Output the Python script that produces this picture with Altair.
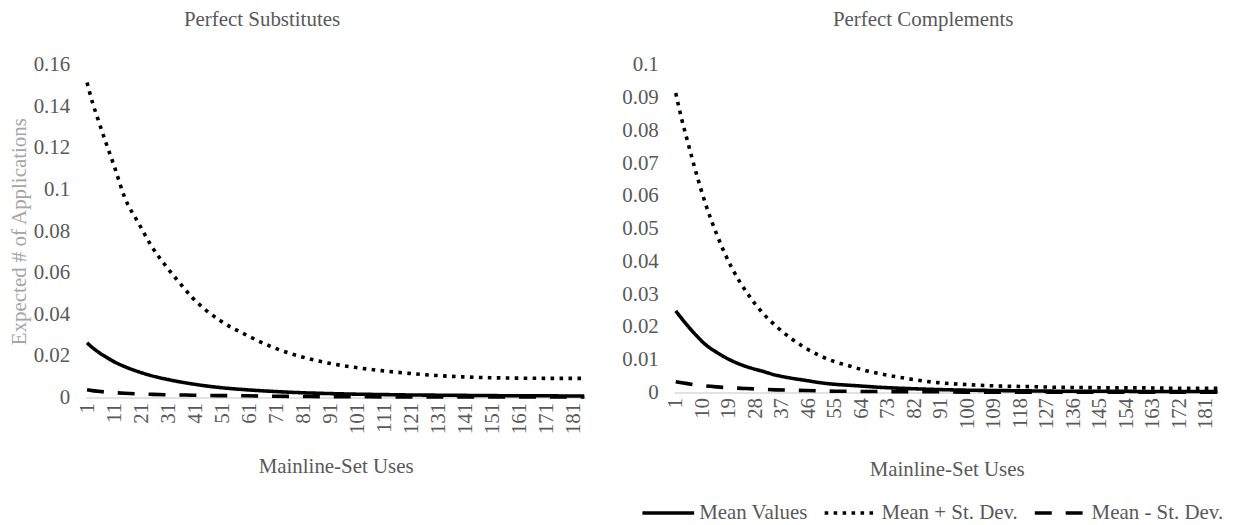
import altair as alt
import pandas as pd

FONT = "Liberation Serif"
GRAY = "#595959"
LIGHT = "#a6a6a6"

series_names = ["Mean Values", "Mean + St. Dev.", "Mean - St. Dev."]
n_points = 185

# Perfect Substitutes (left)
sub_x = [1, 3, 5, 8, 11, 15, 20, 25, 30, 35, 40, 50, 60, 70, 80, 90, 100,
         110, 120, 130, 140, 150, 160, 170, 180, 185]
sub_mean = [0.0263, 0.0240, 0.0220, 0.0195, 0.0172, 0.0148, 0.0124, 0.0104,
            0.0089, 0.0076, 0.0065, 0.0048, 0.0037, 0.0029, 0.0023, 0.0019,
            0.0016, 0.0014, 0.0012, 0.0011, 0.0010, 0.0009, 0.0008, 0.0008,
            0.0007, 0.0007]
sub_plus = [0.1515, 0.1420, 0.1340, 0.1225, 0.1115, 0.0960, 0.0840, 0.0725,
            0.0635, 0.0555, 0.0480, 0.0372, 0.0300, 0.0240, 0.0197, 0.0166,
            0.0145, 0.0129, 0.0116, 0.0106, 0.0099, 0.0095, 0.0093, 0.0092,
            0.0092, 0.0092]
sub_minus = [0.0037, 0.0033, 0.0030, 0.0026, 0.0023, 0.0020, 0.0017, 0.0015,
             0.0013, 0.0012, 0.0011, 0.0009, 0.0008, 0.0006, 0.0005, 0.0004,
             0.0004, 0.0003, 0.0003, 0.0003, 0.0002, 0.0002, 0.0002, 0.0002,
             0.0002, 0.0002]

# Perfect Complements (right)
comp_x = [1, 3, 5, 8, 11, 15, 20, 25, 30, 35, 40, 45, 50, 55, 60, 65, 70, 80,
          90, 100, 110, 120, 130, 140, 150, 160, 170, 180, 185]
comp_mean = [0.0249, 0.0226, 0.0204, 0.0174, 0.0147, 0.0122, 0.0097, 0.0079,
             0.0066, 0.0053, 0.0044, 0.0037, 0.0030, 0.0025, 0.0022, 0.0019,
             0.0016, 0.0012, 0.0009, 0.0007, 0.0006, 0.0005, 0.0004, 0.0004,
             0.0004, 0.0003, 0.0003, 0.0003, 0.0003]
comp_plus = [0.0914, 0.0835, 0.0767, 0.0668, 0.0579, 0.0481, 0.0381, 0.0307,
             0.0248, 0.0203, 0.0166, 0.0136, 0.0112, 0.0094, 0.0081, 0.0068,
             0.0058, 0.0042, 0.0030, 0.0024, 0.0020, 0.0018, 0.0016, 0.0015,
             0.0014, 0.0014, 0.0013, 0.0013, 0.0013]
comp_minus = [0.0033, 0.0030, 0.0027, 0.0023, 0.0020, 0.0017, 0.0014, 0.0012,
              0.0010, 0.0008, 0.0007, 0.0006, 0.0005, 0.0004, 0.0004, 0.0003,
              0.0003, 0.0002, 0.0002, 0.0001, 0.0001, 0.0001, 0.0001, 0.0001,
              0.0001, 0.0001, 0.0001, 0.0001, 0.0001]

sub_xticks = [1, 11, 21, 31, 41, 51, 61, 71, 81, 91, 101, 111, 121, 131, 141,
              151, 161, 171, 181]
comp_xticks = [1, 10, 19, 28, 37, 46, 55, 64, 73, 82, 91, 100, 109, 118, 127,
               136, 145, 154, 163, 172, 181]
sub_yticks = [0, 0.02, 0.04, 0.06, 0.08, 0.1, 0.12, 0.14, 0.16]
comp_yticks = [0, 0.01, 0.02, 0.03, 0.04, 0.05, 0.06, 0.07, 0.08, 0.09, 0.1]


def long_df(xs, mean, plus, minus):
    rows = []
    for name, vals in zip(series_names, [mean, plus, minus]):
        for x, v in zip(xs, vals):
            rows.append({"x": x, "value": v, "series": name})
    return pd.DataFrame(rows)


dash_scale = alt.Scale(domain=series_names,
                       range=[[1, 0], [3.6, 5.4], [17, 14]])


def panel(df, title, yticks, xticks, ytitle, legend, width, height,
          xtitle_pad, title_dx):
    if ytitle:
        yaxis = alt.Axis(values=yticks, format="~g", domain=False, ticks=False,
                         grid=False, labelFont=FONT, labelFontSize=21,
                         labelColor=GRAY, labelPadding=16, title=ytitle,
                         titleFont=FONT, titleFontSize=21, titleColor=LIGHT,
                         titleFontWeight="normal", titlePadding=4)
    else:
        yaxis = alt.Axis(values=yticks, format="~g", domain=False, ticks=False,
                         grid=False, labelFont=FONT, labelFontSize=21,
                         labelColor=GRAY, labelPadding=16, title=None)
    xaxis = alt.Axis(values=xticks, labelAngle=-90, domain=True,
                     domainColor="#d9d9d9", domainWidth=1.5, ticks=False,
                     grid=False, labelFont=FONT, labelFontSize=21,
                     labelColor=GRAY, labelPadding=5,
                     title="Mainline-Set Uses", titleFont=FONT,
                     titleFontSize=21, titleColor=GRAY,
                     titleFontWeight="normal", titlePadding=xtitle_pad)
    return alt.Chart(df).mark_line(
        strokeWidth=3.6, strokeCap="butt", color="black",
        interpolate="monotone"
    ).encode(
        x=alt.X("x:Q", scale=alt.Scale(domain=[0.5, n_points + 0.5],
                                       nice=False, zero=False), axis=xaxis),
        y=alt.Y("value:Q", scale=alt.Scale(domain=[0, max(yticks)],
                                           nice=False), axis=yaxis),
        strokeDash=alt.StrokeDash("series:N", scale=dash_scale,
                                  sort=series_names, legend=legend),
        order=alt.Order("x:Q"),
    ).properties(
        width=width, height=height,
        title=alt.TitleParams(title, font=FONT, fontSize=21, color=GRAY,
                              fontWeight="normal", frame="bounds",
                              anchor="middle", offset=24, dx=title_dx),
    )


legend = alt.Legend(title=None, orient="none", direction="horizontal",
                    legendX=-34, legendY=422, symbolType="stroke",
                    symbolSize=2700, symbolStrokeWidth=3.6,
                    symbolStrokeColor="black", labelFont=FONT,
                    labelFontSize=21, labelColor=GRAY, labelOffset=3,
                    columnPadding=8, labelLimit=300)

left = panel(long_df(sub_x, sub_mean, sub_plus, sub_minus),
             "Perfect Substitutes", sub_yticks, sub_xticks,
             "Expected # of Applications", None, 502, 334, 22, -38)
right = panel(long_df(comp_x, comp_mean, comp_plus, comp_minus),
              "Perfect Complements", comp_yticks, comp_xticks,
              None, legend, 547, 329, 30, 0)

chart = alt.hconcat(left, right, spacing=30).resolve_scale(
    strokeDash="independent"
).resolve_legend(strokeDash="independent").configure_view(
    stroke=None
).properties(padding=0, background="white")

chart.save("out.html", embed_options={"renderer": "svg", "actions": False})
